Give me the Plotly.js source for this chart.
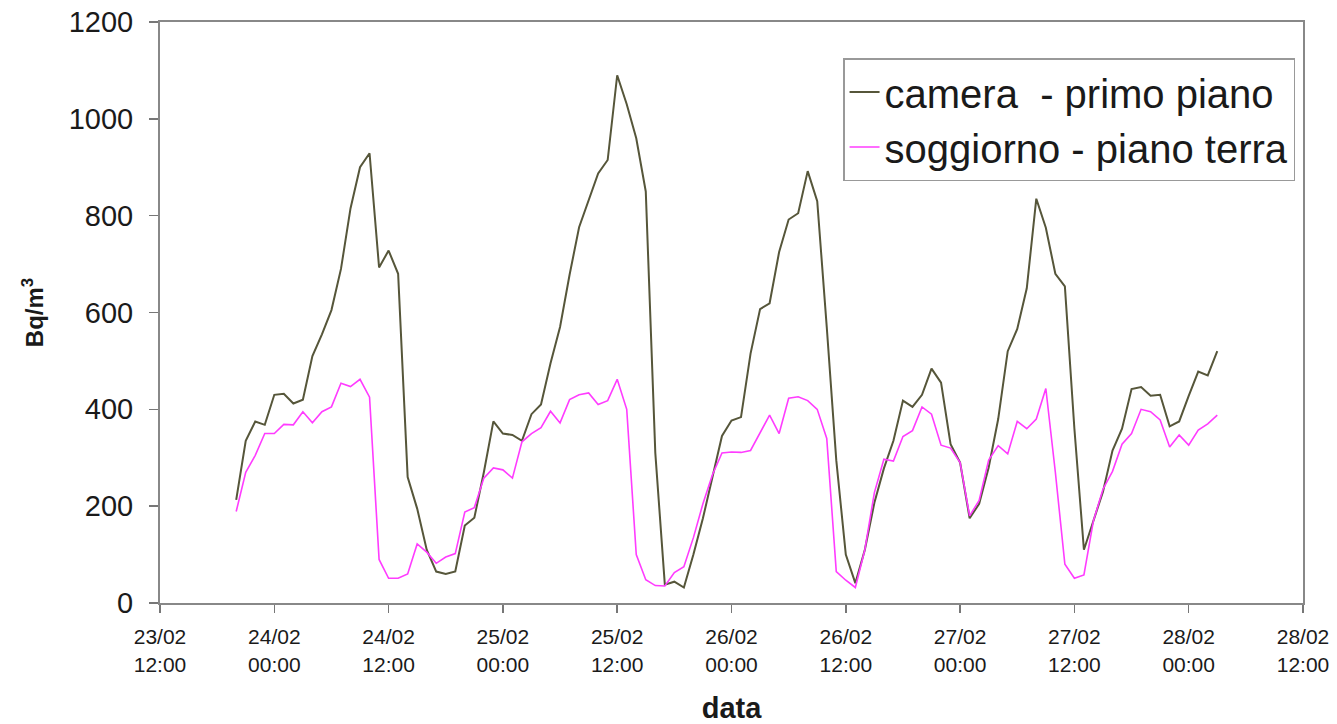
<!DOCTYPE html>
<html>
<head>
<meta charset="utf-8">
<script src="https://cdn.plot.ly/plotly-3.0.1.min.js"></script>
<style>
html,body{margin:0;padding:0;background:#fff;}
#chart{width:1337px;height:724px;}
</style>
</head>
<body>
<div id="chart"></div>
<script>
// Hourly readings, first sample 23/02 20:00
const startTime = '2000-02-23 20:00';
const seriesNames = ['camera  - primo piano', 'soggiorno - piano terra'];

const camera = [
  213, 335, 375, 368, 430, 432, 412, 420, 510, 555,
  605, 690, 815, 900, 929, 693, 728, 680, 260, 195,
  110, 65, 60, 65, 160, 176, 270, 375, 350, 347,
  335, 390, 410, 495, 570, 678, 776, 833, 887, 915,
  1090, 1030, 960, 850, 310, 38, 44, 32, 100, 175,
  262, 345, 377, 384, 515, 607, 619, 725, 792, 805,
  892, 830, 570, 295, 100, 41, 110, 207, 278, 335,
  418, 405, 430, 484, 455, 328, 290, 175, 205, 280,
  380, 520, 566, 650, 835, 775, 680, 654, 360, 110,
  170, 230, 315, 360, 442, 446, 428, 430, 365, 375,
  428, 478, 470, 520
];

const soggiorno = [
  189, 270, 305, 350, 350, 369, 368, 395, 372, 395,
  405, 454, 447, 462, 425, 90, 51, 51, 60, 122,
  105, 82, 95, 102, 188, 197, 258, 279, 275, 258,
  333, 350, 362, 396, 372, 420, 430, 434, 410, 418,
  462, 400, 100, 48, 36, 35, 63, 75, 135, 205,
  265, 310, 312, 311, 315, 350, 388, 350, 423, 426,
  418, 400, 340, 65, 47, 32, 110, 228, 297, 293,
  344, 356, 405, 390, 326, 320, 290, 180, 212, 295,
  325, 308, 375, 360, 380, 443, 270, 80, 51, 58,
  170, 235, 272, 328, 350, 400, 395, 378, 322, 347,
  326, 357, 370, 388
];

const tickValues = [
  '2000-02-23 12:00', '2000-02-24 00:00', '2000-02-24 12:00', '2000-02-25 00:00',
  '2000-02-25 12:00', '2000-02-26 00:00', '2000-02-26 12:00', '2000-02-27 00:00',
  '2000-02-27 12:00', '2000-02-28 00:00', '2000-02-28 12:00'
];
const tickLabels = [
  '23/02<br>12:00', '24/02<br>00:00', '24/02<br>12:00', '25/02<br>00:00',
  '25/02<br>12:00', '26/02<br>00:00', '26/02<br>12:00', '27/02<br>00:00',
  '27/02<br>12:00', '28/02<br>00:00', '28/02<br>12:00'
];

function hourlyTimes(start, n) {
  const t0 = new Date(start.replace(' ', 'T') + ':00Z').getTime();
  const out = [];
  for (let i = 0; i < n; i++) {
    const d = new Date(t0 + i * 3600000);
    out.push(d.toISOString().slice(0, 16).replace('T', ' '));
  }
  return out;
}
const times = hourlyTimes(startTime, camera.length);

const FONT = 'Liberation Sans, Arial, sans-serif';

const traces = [
  {x: times, y: camera, name: seriesNames[0], type: 'scatter', mode: 'lines',
   line: {color: '#56563a', width: 2}},
  {x: times, y: soggiorno, name: seriesNames[1], type: 'scatter', mode: 'lines',
   line: {color: '#ff3cff', width: 1.6}}
];

const layout = {
  width: 1337, height: 724,
  margin: {l: 160, r: 34, t: 22, b: 121},
  paper_bgcolor: '#fff', plot_bgcolor: '#fff',
  font: {family: FONT, color: '#1a1a1a'},
  showlegend: true,
  legend: {
    x: 0.5976, y: 0.938, xanchor: 'left', yanchor: 'top',
    bgcolor: '#fff', bordercolor: '#999', borderwidth: 1.5,
    font: {family: FONT, size: 40, color: '#1a1a1a'},
    tracegroupgap: 0
  },
  xaxis: {
    type: 'date',
    range: [tickValues[0], tickValues[tickValues.length - 1]],
    tickmode: 'array', tickvals: tickValues, ticktext: tickLabels,
    ticks: 'outside', ticklen: 8, tickwidth: 1.5, tickcolor: '#777',
    showline: true, linecolor: '#888', linewidth: 2, mirror: true,
    showgrid: false, zeroline: false,
    tickfont: {family: FONT, size: 21, color: '#1a1a1a'},
    ticklabelstandoff: 6,
    title: {text: '<b>data</b>', font: {family: FONT, size: 29, color: '#1a1a1a'}, standoff: 26}
  },
  yaxis: {
    range: [0, 1200], dtick: 200, tick0: 0,
    ticks: 'outside', ticklen: 9, tickwidth: 1.5, tickcolor: '#777',
    showline: true, linecolor: '#888', linewidth: 2, mirror: true,
    showgrid: false, zeroline: false,
    tickfont: {family: FONT, size: 29, color: '#1a1a1a'},
    ticklabelstandoff: 10,
    title: {text: '<b>Bq/m<sup>3</sup></b>', font: {family: FONT, size: 24, color: '#1a1a1a'}, standoff: 18}
  }
};

Plotly.newPlot('chart', traces, layout, {displayModeBar: false, staticPlot: true});
</script>
</body>
</html>
